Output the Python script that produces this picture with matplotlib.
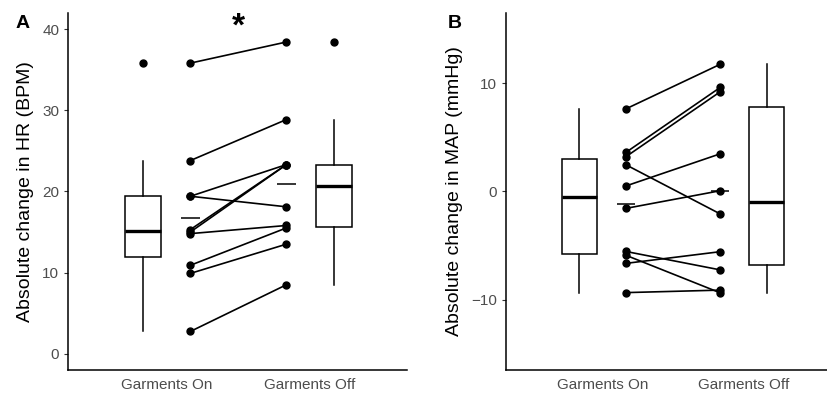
import matplotlib
matplotlib.use("Agg")
import matplotlib.pyplot as plt
import numpy as np

plt.rcParams["font.family"] = ["Liberation Sans", "DejaVu Sans"]

# paired values, one entry per participant
groups = ["Garments On", "Garments Off"]
hr_on = [35.8, 23.8, 19.4, 19.4, 15.3, 15.0, 14.8, 10.9, 9.9, 2.75]
hr_off = [38.4, 28.85, 23.3, 18.1, 23.3, 23.3, 15.8, 15.5, 13.5, 8.5]
map_on = [7.62, 3.6, 3.2, 2.46, 0.5, -1.57, -5.55, -5.9, -6.65, -9.35]
map_off = [11.74, 9.6, 9.2, -2.08, 3.47, 0.06, -7.25, -9.37, -5.57, -9.12]

BOX_OFF = 0.165
PT_OFF = 0.165


def draw_panel(ax, on, off, ylabel, ylim, yticks, xlim):
    on = np.asarray(on)
    off = np.asarray(off)
    ax.boxplot(
        [on, off],
        positions=[1 - BOX_OFF, 2 + BOX_OFF],
        widths=0.25,
        patch_artist=True,
        showcaps=False,
        boxprops=dict(facecolor="white", edgecolor="black", linewidth=1.1),
        medianprops=dict(color="black", linewidth=2.4),
        whiskerprops=dict(color="black", linewidth=1.1),
        flierprops=dict(marker="o", markerfacecolor="black",
                        markeredgecolor="black", markersize=5),
    )
    x_on = 1 + PT_OFF
    x_off = 2 - PT_OFF
    for a, b in zip(on, off):
        ax.plot([x_on, x_off], [a, b], color="black", lw=1.2, zorder=3)
    ax.plot(np.full(len(on), x_on), on, "o", color="black", ms=5, zorder=4)
    ax.plot(np.full(len(off), x_off), off, "o", color="black", ms=5, zorder=4)
    for x, vals in ((x_on, on), (x_off, off)):
        m = vals.mean()
        ax.hlines(m, x - 0.065, x + 0.065, color="black", lw=1.1, zorder=3)

    ax.set_xlim(*xlim)
    ax.set_ylim(*ylim)
    ax.set_xticks([1, 2])
    ax.set_xticklabels(groups)
    ax.set_yticks(yticks)
    ax.tick_params(axis="x", length=0, pad=6, labelsize=11, labelcolor="#4D4D4D")
    ax.tick_params(axis="y", length=3, width=0.8, color="#333333",
                   labelsize=11, labelcolor="#4D4D4D")
    ax.set_ylabel(ylabel, fontsize=14, labelpad=6)
    for side in ("top", "right"):
        ax.spines[side].set_visible(False)
    for side in ("left", "bottom"):
        ax.spines[side].set_linewidth(1.1)


fig = plt.figure(figsize=(8.27, 3.93), dpi=100)
ax_a = fig.add_axes([0.0826, 0.0585, 0.4096, 0.909])
ax_b = fig.add_axes([0.6118, 0.0585, 0.3882, 0.909])

draw_panel(ax_a, hr_on, hr_off, "Absolute change in HR (BPM)",
           (-2, 42), [0, 10, 20, 30, 40], (0.313, 2.677))
draw_panel(ax_b, map_on, map_off, "Absolute change in MAP (mmHg)",
           (-16.5, 16.5), [-10, 0, 10], (0.313, 2.594))

ax_a.text(1.5, 40.2, "*", ha="center", va="center", fontsize=24, fontweight="bold")
fig.text(23 / 827, 1 - 23 / 393, "A", ha="center", va="center",
         fontsize=14, fontweight="bold")
fig.text(455 / 827, 1 - 23 / 393, "B", ha="center", va="center",
         fontsize=14, fontweight="bold")

fig.savefig("out.png", dpi=100)
